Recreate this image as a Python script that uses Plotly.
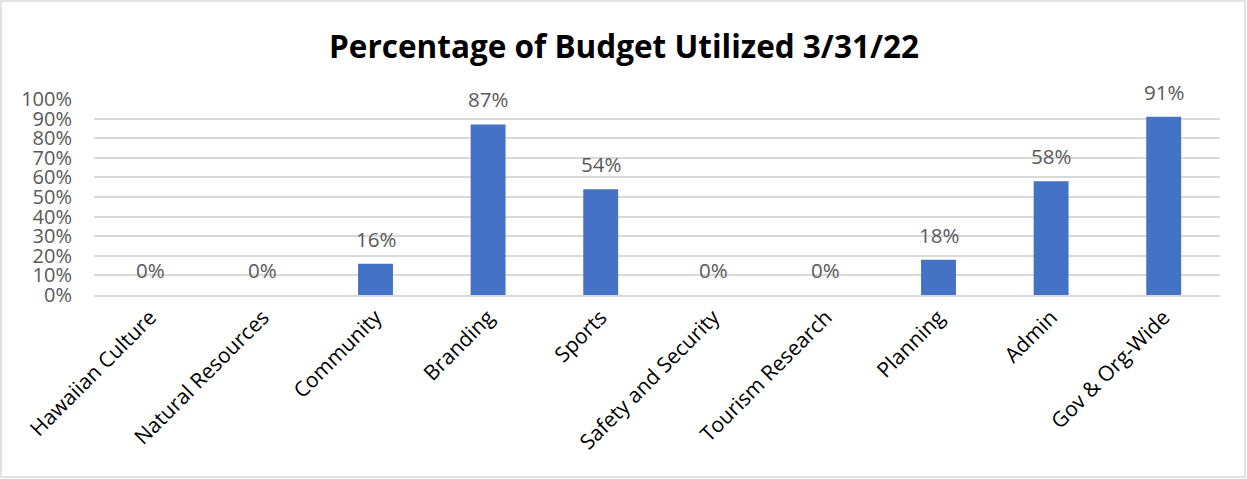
import plotly.graph_objects as go

categories = ["Hawaiian Culture", "Natural Resources", "Community", "Branding", "Sports",
              "Safety and Security", "Tourism Research", "Planning", "Admin", "Gov & Org-Wide"]
values = [0.0, 0.0, 0.16, 0.87, 0.54, 0.0, 0.0, 0.18, 0.58, 0.91]
labels = ["0%", "0%", "16%", "87%", "54%", "0%", "0%", "18%", "58%", "91%"]
tick_vals = [i / 10 for i in range(11)]
tick_text = [f"{i*10}%" for i in range(11)]

FONT = "Open Sans, Lato, sans-serif"
W, H = 1247, 479
L, R, T, B = 94, 27, 99, 184
pw, ph = W - L - R, H - T - B

fig = go.Figure()
fig.add_trace(go.Bar(x=categories, y=values, marker=dict(color="#4472C4", line=dict(width=0)),
                     width=0.31, hoverinfo="x+y"))

annotations = []
for c, v, t in zip(categories, values, labels):
    annotations.append(dict(x=c, y=v, text=t, showarrow=False, yshift=25, yanchor="middle",
                            xanchor="center", font=dict(family=FONT, size=20.5, color="#595959")))
annotations.append(dict(x=0.5, y=1 + (T - 46) / ph, xref="paper", yref="paper",
                        text="<b>Percentage of Budget Utilized 3/31/22</b>", showarrow=False,
                        yanchor="middle", xanchor="center", xshift=(624 - (L + pw / 2)),
                        font=dict(family=FONT, size=31.5, color="#000000")))
fig.update_layout(annotations=annotations)

fig.update_layout(
    width=W, height=H,
    margin=dict(l=L, r=R, t=T, b=B, autoexpand=False),
    paper_bgcolor="white", plot_bgcolor="white",
    showlegend=False,
    font=dict(family=FONT),
    xaxis=dict(tickangle=-45, tickfont=dict(size=21, color="#000000"), showgrid=False,
               showline=True, linecolor="#d9d9d9", linewidth=1.5, ticks="", fixedrange=True),
    yaxis=dict(range=[0, 1.0], tickvals=tick_vals, ticktext=tick_text, showgrid=True,
               gridcolor="#d9d9d9", gridwidth=1.5, zeroline=False, showline=False,
               tickfont=dict(size=20, color="#595959"), ticks="", ticklabelstandoff=21, fixedrange=True),
    shapes=[dict(type="rect", xref="paper", yref="paper",
                 x0=(1 - L) / pw, x1=1 + (R - 2) / pw,
                 y0=-(B - 2) / ph, y1=1 + (T - 1) / ph,
                 line=dict(color="#d9d9d9", width=1.5), fillcolor="rgba(0,0,0,0)", layer="below")],
)

fig.write_html("out.html")
